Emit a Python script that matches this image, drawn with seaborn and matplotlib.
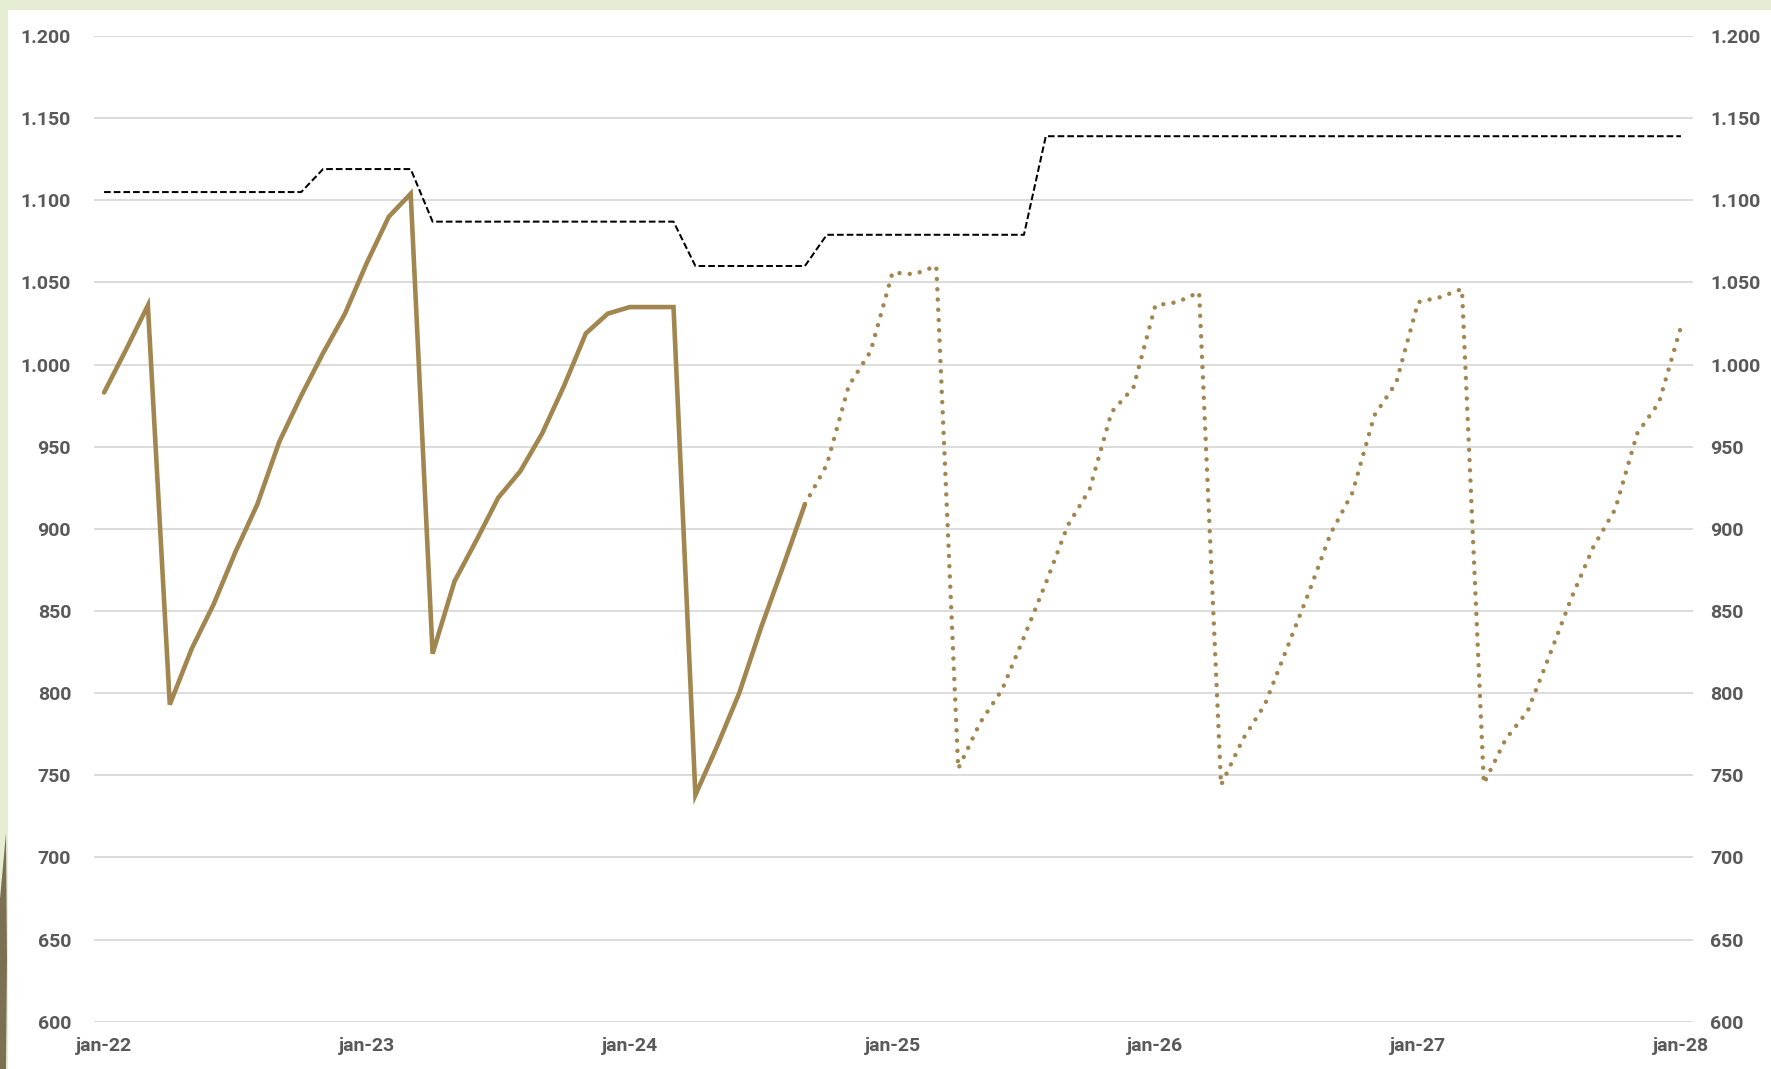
import matplotlib
matplotlib.use("Agg")
import matplotlib.pyplot as plt
from matplotlib.patches import Rectangle, Polygon
import pandas as pd
import seaborn as sns

# month index 0 = jan-22
year_labels = ["jan-22", "jan-23", "jan-24", "jan-25", "jan-26", "jan-27", "jan-28"]
year_ticks = [0, 12, 24, 36, 48, 60, 72]

# realised values (solid line), months 0..32
realised = [983, 1009, 1036, 793, 827, 854, 886, 915, 953, 981, 1007, 1031,
            1062, 1090, 1104, 824, 868, 893, 919, 935, 958, 987, 1019, 1031,
            1035, 1035, 1035, 738, 768, 800, 840, 877, 915]

# forecast values (dotted line), months 32..72
forecast = [915, 939, 987, 1008, 1056, 1055, 1060, 754, 782, 802, 834, 867,
            902, 924, 971, 986, 1036, 1038, 1044, 744, 772, 793, 827, 861,
            897, 922, 969, 989, 1038, 1041, 1046, 745, 772, 789, 823, 858,
            889, 912, 958, 977, 1023]
forecast_start = 32

# reference level (dashed black line), months 0..72
reference = [1105, 1105, 1105, 1105, 1105, 1105, 1105, 1105, 1105, 1105,
             1119, 1119, 1119, 1119, 1119,
             1087, 1087, 1087, 1087, 1087, 1087, 1087, 1087, 1087, 1087, 1087, 1087,
             1060, 1060, 1060, 1060, 1060, 1060,
             1079, 1079, 1079, 1079, 1079, 1079, 1079, 1079, 1079, 1079,
             1139, 1139, 1139, 1139, 1139, 1139, 1139, 1139, 1139, 1139,
             1139, 1139, 1139, 1139, 1139, 1139, 1139, 1139, 1139, 1139,
             1139, 1139, 1139, 1139, 1139, 1139, 1139, 1139, 1139, 1139]

y_ticks = [600, 650, 700, 750, 800, 850, 900, 950, 1000, 1050, 1100, 1150, 1200]

gold = "#a2864f"
label_grey = "#595959"

sns.set_style("white")
plt.rcParams["font.family"] = ["Roboto", "DejaVu Sans"]

W, H = 1771, 1069
fig = plt.figure(figsize=(W / 100, H / 100), dpi=100, facecolor="#e5edd3")

# white slide area + little decoration in the left strip (behind the axes)
fig.patches.append(Rectangle((8 / W, 0), 1, (H - 10) / H, transform=fig.transFigure,
                             facecolor="white", edgecolor="none", zorder=-10))
fig.patches.append(Polygon([(0, 0), (6 / W, 0), (7 / W, 110 / H), (6 / W, 236 / H), (0, 170 / H)],
                           closed=True, transform=fig.transFigure,
                           facecolor="#7b7152", edgecolor="none", zorder=-9))

ax = fig.add_axes([94 / W, 47.3 / H, 1599 / W, 985.7 / H])
ax.patch.set_alpha(0)

real_df = pd.DataFrame({"month": range(len(realised)), "value": realised})
fc_df = pd.DataFrame({"month": range(forecast_start, forecast_start + len(forecast)), "value": forecast})
ref_df = pd.DataFrame({"month": range(len(reference)), "value": reference})

sns.lineplot(data=ref_df, x="month", y="value", ax=ax, color="black", lw=1.45, errorbar=None)
sns.lineplot(data=fc_df, x="month", y="value", ax=ax, color=gold, lw=3.2, errorbar=None)
sns.lineplot(data=real_df, x="month", y="value", ax=ax, color=gold, lw=3.3, errorbar=None)

ref_line, fc_line, real_line = ax.get_lines()[:3]
ref_line.set_linestyle((0, (3.3, 1.5)))
fc_line.set_linestyle((0, (0.01, 2.3)))
fc_line.set_dash_capstyle("round")
real_line.set_solid_capstyle("round")
real_line.set_solid_joinstyle("miter")

ax.set_xlim(-0.46, 72.55)
ax.set_ylim(600, 1200)
ax.set_xticks(year_ticks)
ax.set_xticklabels(year_labels)
ytick_labels = [f"{v:,}".replace(",", ".") for v in y_ticks]
ax.set_yticks(y_ticks)
ax.set_yticklabels(ytick_labels)
ax.set_xlabel("")
ax.set_ylabel("")

ax.yaxis.grid(True, color="#d9d9d9", lw=1.3)
ax.xaxis.grid(False)
ax.set_axisbelow(True)
for s in ax.spines.values():
    s.set_visible(False)
ax.tick_params(axis="both", length=0, labelsize=14, labelcolor=label_grey)
ax.tick_params(axis="y", pad=16.5)
ax.tick_params(axis="x", pad=11)

# same scale repeated on the right side
ax2 = ax.twinx()
ax2.set_ylim(ax.get_ylim())
ax2.set_yticks(y_ticks)
ax2.set_yticklabels(ytick_labels)
for s in ax2.spines.values():
    s.set_visible(False)
ax2.tick_params(axis="y", length=0, labelsize=14, labelcolor=label_grey, pad=12.2)

for lab in ax.get_xticklabels() + ax.get_yticklabels() + ax2.get_yticklabels():
    lab.set_fontweight("bold")

fig.savefig("out.png", dpi=100, facecolor=fig.get_facecolor())
plt.close(fig)
